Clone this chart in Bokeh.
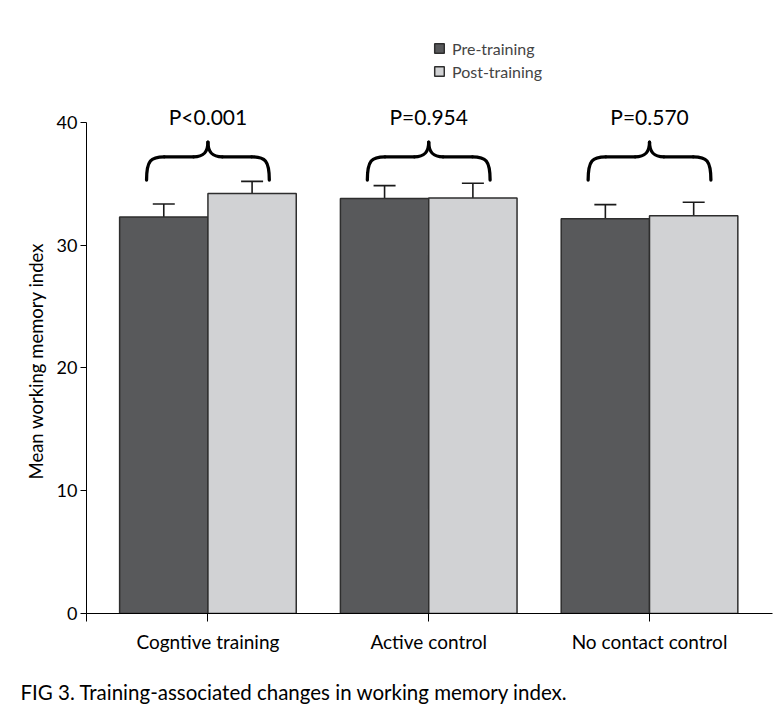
from bokeh.plotting import figure
from bokeh.models import (ColumnDataSource, Whisker, TeeHead, FixedTicker, Range1d, Title)
from bokeh.core.properties import value
from bokeh.embed import file_html
from bokeh.resources import INLINE

# ---------------- data ----------------
groups = ["Cogntive training", "Active control", "No contact control"]
series = ["Pre-training", "Post-training"]
pre_means = [32.3, 33.8, 32.15]
post_means = [34.2, 33.85, 32.4]
pre_sem = [1.05, 1.05, 1.15]
post_sem = [1.0, 1.2, 1.1]
p_values = ["P<0.001", "P=0.954", "P=0.570"]
y_ticks = [0, 10, 20, 30, 40]
y_label = "Mean working memory index"
caption = "FIG 3. Training-associated changes in working memory index."

# ---------------- style ----------------
FONT = "Lato"
PRE_COLOR = "#58595b"
POST_COLOR = "#d1d2d4"
EDGE = "#2e2e2e"
bw = 0.4
centers = [i + 1 for i in range(len(groups))]
X0 = 0.45

p = figure(width=784, height=727, output_backend="svg", toolbar_location=None,
           x_range=Range1d(X0, 3.557), y_range=Range1d(0, 48.3),
           min_border_left=86, min_border_top=20, min_border_right=12,
           min_border_bottom=114)
p.outline_line_color = None
p.xgrid.visible = False
p.ygrid.visible = False
p.background_fill_color = "white"
p.border_fill_color = "white"

pre_x = [c - bw / 2 for c in centers]
post_x = [c + bw / 2 for c in centers]

p.vbar(x=pre_x, top=pre_means, bottom=0, width=bw, fill_color=PRE_COLOR,
       line_color=EDGE, line_width=1.5, legend_label=series[0])
p.vbar(x=post_x, top=post_means, bottom=0, width=bw, fill_color=POST_COLOR,
       line_color=EDGE, line_width=1.5, legend_label=series[1])

err_src = ColumnDataSource(dict(
    x=pre_x + post_x,
    upper=[m + e for m, e in zip(pre_means, pre_sem)] + [m + e for m, e in zip(post_means, post_sem)],
    lower=[m - e for m, e in zip(pre_means, pre_sem)] + [m - e for m, e in zip(post_means, post_sem)],
))
w = Whisker(source=err_src, base="x", upper="upper", lower="lower",
            line_color="#1a1a1a", line_width=1.6,
            upper_head=TeeHead(size=22, line_color="#1a1a1a", line_width=1.6),
            lower_head=TeeHead(size=22, line_color="#1a1a1a", line_width=1.6))
p.add_layout(w)

# ---------------- braces ----------------
hw, r_end, r_peak = 0.278, 0.08, 0.065
y_end, y_mid, y_top = 35.3, 37.2, 38.4
bz = dict(x0=[], y0=[], x1=[], y1=[], cx0=[], cy0=[], cx1=[], cy1=[])
seg = dict(x0=[], y0=[], x1=[], y1=[])
for c in centers:
    for s in (-1, 1):
        bz["x0"].append(c + s * hw); bz["y0"].append(y_end)
        bz["x1"].append(c + s * (hw - r_end)); bz["y1"].append(y_mid)
        bz["cx0"].append(c + s * hw); bz["cy0"].append(y_end + (y_mid - y_end) * 0.85)
        bz["cx1"].append(c + s * (hw - r_end * 0.25)); bz["cy1"].append(y_mid)
        bz["x0"].append(c + s * r_peak); bz["y0"].append(y_mid)
        bz["x1"].append(c); bz["y1"].append(y_top)
        bz["cx0"].append(c + s * r_peak * 0.3); bz["cy0"].append(y_mid)
        bz["cx1"].append(c); bz["cy1"].append(y_mid + (y_top - y_mid) * 0.3)
        seg["x0"].append(c + s * (hw - r_end)); seg["y0"].append(y_mid)
        seg["x1"].append(c + s * r_peak); seg["y1"].append(y_mid)
p.bezier(source=ColumnDataSource(bz), x0="x0", y0="y0", x1="x1", y1="y1",
         cx0="cx0", cy0="cy0", cx1="cx1", cy1="cy1",
         line_color="black", line_width=3.3, line_cap="round")
p.segment(source=ColumnDataSource(seg), x0="x0", y0="y0", x1="x1", y1="y1",
          line_color="black", line_width=3.3, line_cap="round")

p.text(x=centers, y=[40.5] * len(centers), text=p_values, text_align="center",
       text_baseline="middle", text_font=value(FONT), text_font_size="21px",
       text_color="black")

# ---------------- axes ----------------
p.yaxis.bounds = (0, 40)
p.yaxis.ticker = FixedTicker(ticks=y_ticks)
p.yaxis.major_tick_out = 6
p.yaxis.major_tick_in = 0
p.yaxis.minor_tick_line_color = None
p.yaxis.major_label_text_font = FONT
p.yaxis.major_label_text_font_size = "18px"
p.yaxis.major_label_standoff = 3

p.xaxis.ticker = FixedTicker(ticks=[X0] + centers)
overrides = {X0: ""}
overrides.update({c: g for c, g in zip(centers, groups)})
p.xaxis.major_label_overrides = overrides
p.xaxis.major_tick_out = 8
p.xaxis.major_tick_in = 0
p.xaxis.minor_tick_line_color = None
p.xaxis.major_label_text_font = FONT
p.xaxis.major_label_text_font_size = "19px"
p.xaxis.major_label_standoff = 8
for ax in (p.xaxis, p.yaxis):
    ax.axis_line_color = "black"
    ax.major_tick_line_color = "black"
    ax.major_label_text_color = "black"

# y-axis title, placed along the 0-40 span of the axis
p.add_layout(Title(text=y_label, align="left", offset=134, standoff=14,
                   text_font=FONT, text_font_size="18.5px", text_font_style="normal",
                   text_color="black"), "left")

# ---------------- legend ----------------
lg = p.legend[0]
lg.location = (347, 532)
lg.border_line_color = None
lg.background_fill_alpha = 0
lg.padding = 0
lg.margin = 0
lg.spacing = 3
lg.glyph_width = 12
lg.glyph_height = 12
lg.label_height = 20
lg.label_standoff = 7
lg.label_text_font = FONT
lg.label_text_font_size = "16px"

# caption
p.add_layout(Title(text=caption, align="left", offset=-66, standoff=45,
                   text_font=FONT, text_font_size="20.5px", text_font_style="normal",
                   text_color="black"), "below")

open("out.html", "w").write(file_html(p, INLINE))
